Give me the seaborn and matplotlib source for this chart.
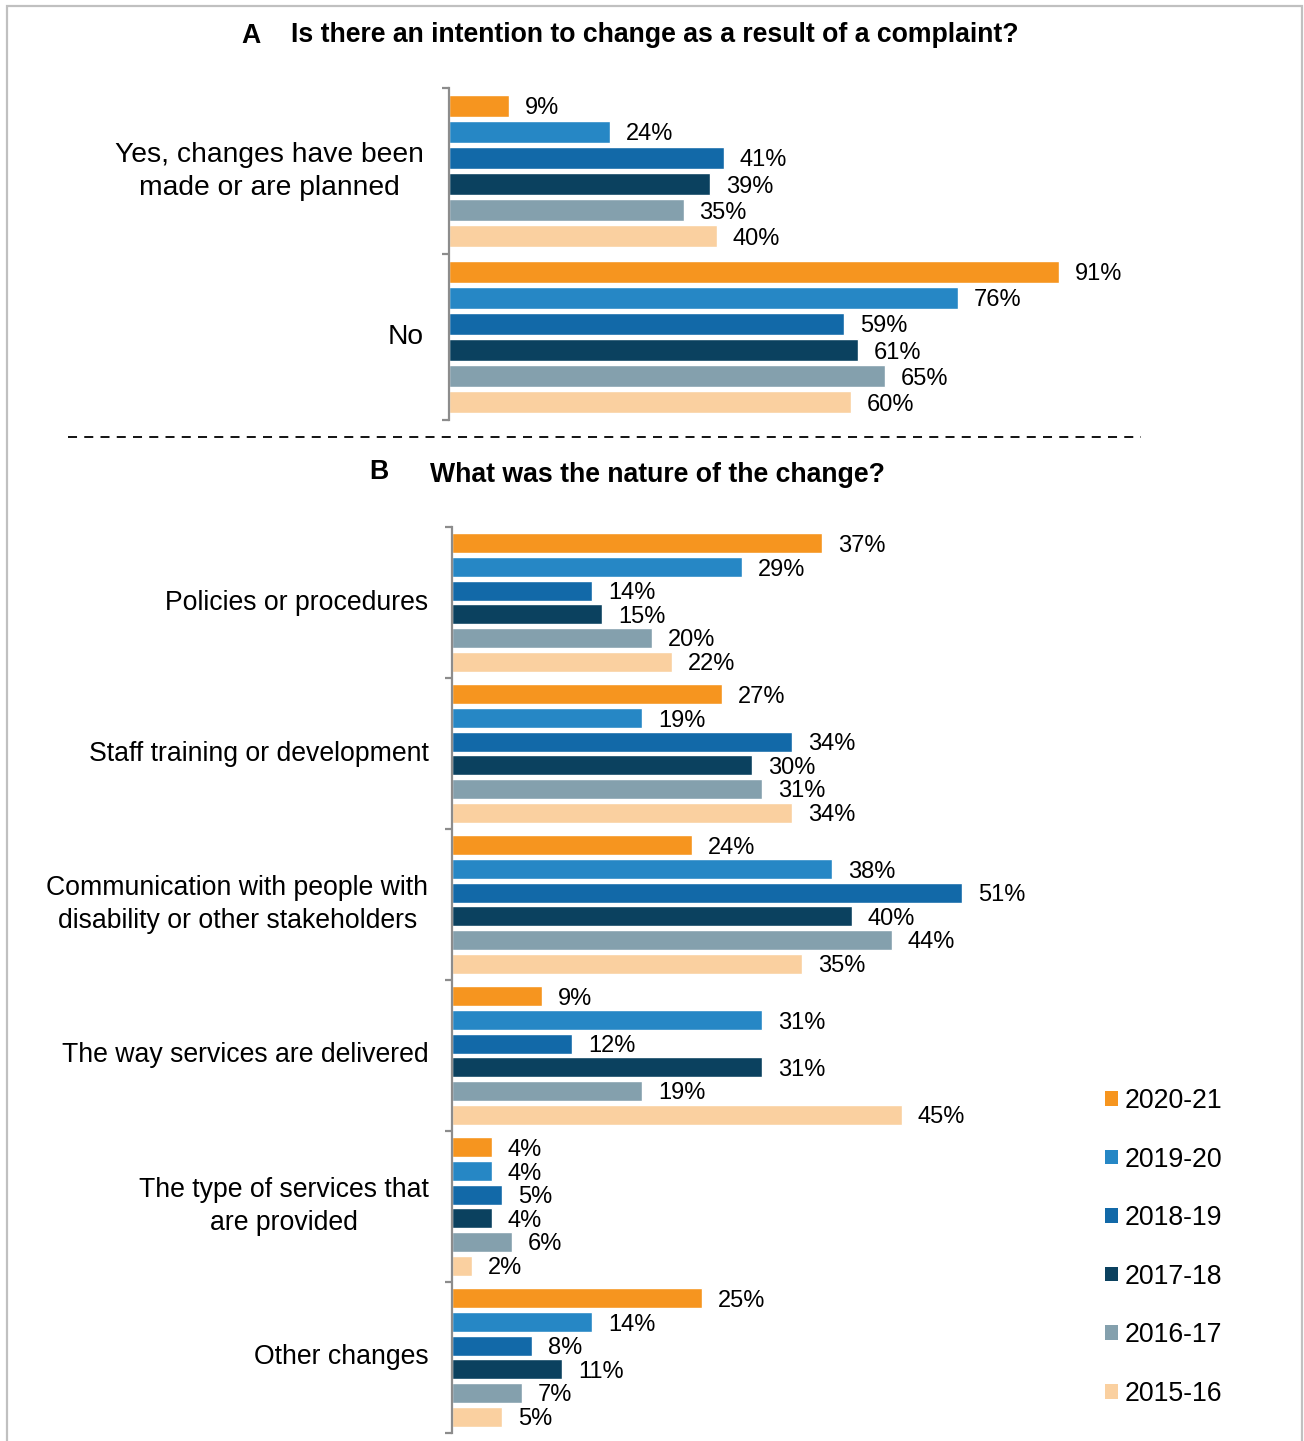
import matplotlib
matplotlib.use("Agg")
import matplotlib.pyplot as plt
from matplotlib.patches import Patch, Rectangle
from matplotlib.lines import Line2D
import seaborn as sns
import pandas as pd

# ---- data -------------------------------------------------------------
years = ["2020-21", "2019-20", "2018-19", "2017-18", "2016-17", "2015-16"]
colors = ["#F6951F", "#2687C5", "#1269A8", "#0B415F", "#84A0AD", "#FAD0A0"]

a_title = "Is there an intention to change as a result of a complaint?"
a_categories = ["Yes, changes have been\nmade or are planned", "No"]
a_yes = [9, 24, 41, 39, 35, 40]
a_no = [91, 76, 59, 61, 65, 60]

b_title = "What was the nature of the change?"
b_categories = [
    "Policies or procedures",
    "Staff training or development",
    "Communication with people with\ndisability or other stakeholders",
    "The way services are delivered",
    "The type of services that\nare provided",
    "Other changes",
]
b_policies = [37, 29, 14, 15, 20, 22]
b_training = [27, 19, 34, 30, 31, 34]
b_communication = [24, 38, 51, 40, 44, 35]
b_delivery = [9, 31, 12, 31, 19, 45]
b_type = [4, 4, 5, 4, 6, 2]
b_other = [25, 14, 8, 11, 7, 5]


def long_table(categories, rows):
    recs = []
    for cat, vals in zip(categories, rows):
        for yr, v in zip(years, vals):
            recs.append({"category": cat, "year": yr, "pct": v})
    return pd.DataFrame(recs)


df_a = long_table(a_categories, [a_yes, a_no])
df_b = long_table(b_categories, [b_policies, b_training, b_communication,
                                 b_delivery, b_type, b_other])

# ---- style ------------------------------------------------------------
sns.set_theme(style="white")
plt.rcParams["font.family"] = ["Liberation Sans", "DejaVu Sans"]
plt.rcParams["text.color"] = "black"

W, H = 1304, 1441
fig = plt.figure(figsize=(W / 100, H / 100), dpi=100)
fig.patch.set_facecolor("white")


def rect(l, t, r, b):
    return [l / W, 1 - b / H, (r - l) / W, (b - t) / H]


SPINE = "#8C8C8C"


def draw_panel(ax, df, categories, xmax, label_pad, label_size):
    sns.barplot(data=df, y="category", x="pct", hue="year",
                hue_order=years, order=categories, palette=colors,
                orient="h", width=0.94, gap=0.15, saturation=1,
                legend=False, ax=ax)
    ax.set_xlim(0, xmax)
    ax.set_ylim(len(categories) - 0.5, -0.5)
    for cont in ax.containers:
        for t in ax.bar_label(cont, fmt="%d%%", padding=11.5, fontsize=17,
                              color="black"):
            t.xyann = (11.5, -1.8)
    for side in ["top", "right", "bottom"]:
        ax.spines[side].set_visible(False)
    ax.spines["left"].set_color(SPINE)
    ax.spines["left"].set_linewidth(1.6)
    ax.set_xticks([])
    ax.set_xlabel("")
    ax.set_ylabel("")
    ax.set_yticks(range(len(categories)))
    ax.set_yticks([i - 0.5 for i in range(len(categories) + 1)], minor=True)
    ax.tick_params(axis="y", which="major", length=0, pad=label_pad,
                   labelsize=label_size, labelcolor="black")
    ax.tick_params(axis="y", which="minor", length=5, width=1.6,
                   color=SPINE, left=True)
    ax.set_yticklabels(categories)
    for lab in ax.get_yticklabels():
        lab.set_multialignment("center")
        lab.set_linespacing(1.35)
        lab.set_verticalalignment("center")
    ax.set_facecolor("none")


# Panel A
ax_a = fig.add_axes(rect(449, 88, 1119, 420))
draw_panel(ax_a, df_a, a_categories, 100, 18, 20.3)

# Panel B
ax_b = fig.add_axes(rect(452, 527, 1102, 1433))
draw_panel(ax_b, df_b, b_categories, 65, 17, 19.2)

# Titles
fig.text(251 / W, 1 - 36 / H, "A", fontsize=19.2, fontweight="bold",
         ha="center", va="center", color="black")
fig.text(291 / W, 1 - 35 / H, a_title, fontsize=19.2, fontweight="bold",
         ha="left", va="center", color="black")
fig.text(379 / W, 1 - 472 / H, "B", fontsize=19.2, fontweight="bold",
         ha="center", va="center", color="black")
fig.text(430 / W, 1 - 475 / H, b_title, fontsize=19.2, fontweight="bold",
         ha="left", va="center", color="black")

# Dashed separator between the panels
fig.add_artist(Line2D([68 / W, 1141 / W], [1 - 437 / H] * 2,
                      transform=fig.transFigure, color="black", lw=1.3,
                      ls=(0, (5, 4))))

# Legend
handles = [Patch(facecolor=c, edgecolor="none") for c in colors]
fig.legend(handles, years, loc="upper left",
           bbox_to_anchor=(1105 / W, 1 - 1088 / H),
           bbox_transform=fig.transFigure, frameon=False, fontsize=19.2,
           handlelength=0.47, handleheight=0.47, handletextpad=0.26,
           labelspacing=1.22, borderaxespad=0, borderpad=0)

# Outer frame
fig.add_artist(Rectangle((7 / W, -0.01), (1302 - 7) / W, 1.01 - 6 / H,
                         transform=fig.transFigure, fill=False,
                         edgecolor="#C0C0C0", lw=1.6))

fig.savefig("out.png", dpi=100, facecolor="white")
